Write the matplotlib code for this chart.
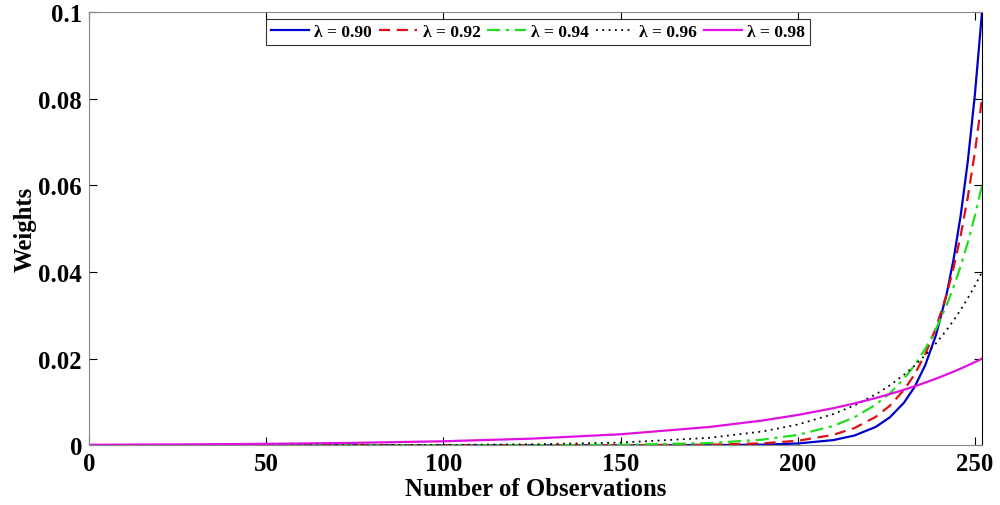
import matplotlib
matplotlib.use("Agg")
import matplotlib.pyplot as plt

# observation index (last one = most recent)
obs = [0, 25, 50, 75, 100, 125, 150, 175, 190, 200, 210, 216, 222, 226,
       230, 233, 236, 239, 242, 244, 246, 248, 250, 252]

w090 = [0.0, 0.0, 0.0, 0.0, 0.0, 0.0000002, 0.0000022, 0.000030, 0.000146,
        0.000417, 0.001197, 0.002253, 0.004239, 0.006461, 0.009848, 0.013509,
        0.018530, 0.025419, 0.034868, 0.043047, 0.053144, 0.065610, 0.081000, 0.1]
w092 = [0.0, 0.0, 0.0, 0.0, 0.0000003, 0.0000020, 0.0000162, 0.000130, 0.000455,
        0.001047, 0.002411, 0.003976, 0.006557, 0.009153, 0.012777, 0.016408,
        0.021071, 0.027060, 0.034751, 0.041058, 0.048508, 0.057311, 0.067712, 0.08]
w094 = [0.0, 0.0000001, 0.0000002, 0.0000011, 0.0000049, 0.000023, 0.000109,
        0.000512, 0.001294, 0.002403, 0.004462, 0.006468, 0.009375, 0.012008,
        0.015380, 0.018518, 0.022294, 0.026842, 0.032317, 0.036574, 0.041392,
        0.046845, 0.053016, 0.06]
w096 = [0.0000014, 0.0000038, 0.0000105, 0.0000291, 0.0000808, 0.000224,
        0.000622, 0.001726, 0.003183, 0.004788, 0.007202, 0.009201, 0.011754,
        0.013839, 0.016294, 0.018417, 0.020816, 0.023528, 0.026593, 0.028856,
        0.031310, 0.033974, 0.036864, 0.04]
w098 = [0.000123, 0.000204, 0.000338, 0.000560, 0.000928, 0.001537, 0.002547,
        0.004221, 0.005715, 0.006995, 0.008561, 0.009664, 0.010910, 0.011828,
        0.012823, 0.013625, 0.014476, 0.015380, 0.016341, 0.017015, 0.017717,
        0.018447, 0.019208, 0.02]

labels = ["λ = 0.90", "λ = 0.92", "λ = 0.94", "λ = 0.96", "λ = 0.98"]
xticks = [0, 50, 100, 150, 200, 250]
yticks = [0, 0.02, 0.04, 0.06, 0.08, 0.1]
ytick_labels = ["0", "0.02", "0.04", "0.06", "0.08", "0.1"]

plt.rcParams['font.family'] = ['Liberation Serif', 'DejaVu Serif']
plt.rcParams['font.weight'] = 'bold'

fig = plt.figure(figsize=(10, 5.06), dpi=100)
ax = fig.add_axes([0.089, 0.118, 0.893, 0.856])

ax.plot(obs, w090, color='#0000cc', lw=1.6, ls='-', label=labels[0])
ax.plot(obs, w092, color='#dd1111', lw=1.6, ls=(0, (5, 3)), label=labels[1])
ax.plot(obs, w094, color='#22dd22', lw=1.6, ls=(0, (6, 2.5, 1.5, 2.5)), label=labels[2])
ax.plot(obs, w096, color='black', lw=1.3, ls=(0, (1, 2.5)), label=labels[3])
ax.plot(obs, w098, color='#e010e0', lw=1.6, ls='-', label=labels[4])

ax.set_xlim(0, 252)
ax.set_ylim(0, 0.1)
ax.set_xticks(xticks)
ax.set_yticks(yticks)
ax.set_yticklabels(ytick_labels)
ax.tick_params(direction='in', length=6, width=0.8, labelsize=17.8,
               top=True, right=True, pad=5)
for lab in ax.get_xticklabels() + ax.get_yticklabels():
    lab.set_fontweight('bold')
for side in ['left', 'bottom', 'top']:
    ax.spines[side].set_color('#888888')
ax.spines['right'].set_color('black')

ax.set_xlabel("Number of Observations", fontsize=17.8, fontweight='bold', labelpad=1)
ax.set_ylabel("Weights", fontsize=17.8, fontweight='bold', labelpad=1)

leg = ax.legend(loc='upper center', bbox_to_anchor=(0.503, 0.985), ncol=5,
                prop={'weight': 'bold', 'size': 12.5}, frameon=True, fancybox=False,
                edgecolor='black', handlelength=2.2, handletextpad=0.3,
                columnspacing=0.4, borderpad=0.3, borderaxespad=0.0)
leg.get_frame().set_linewidth(0.8)

fig.savefig("out.png", dpi=100)
